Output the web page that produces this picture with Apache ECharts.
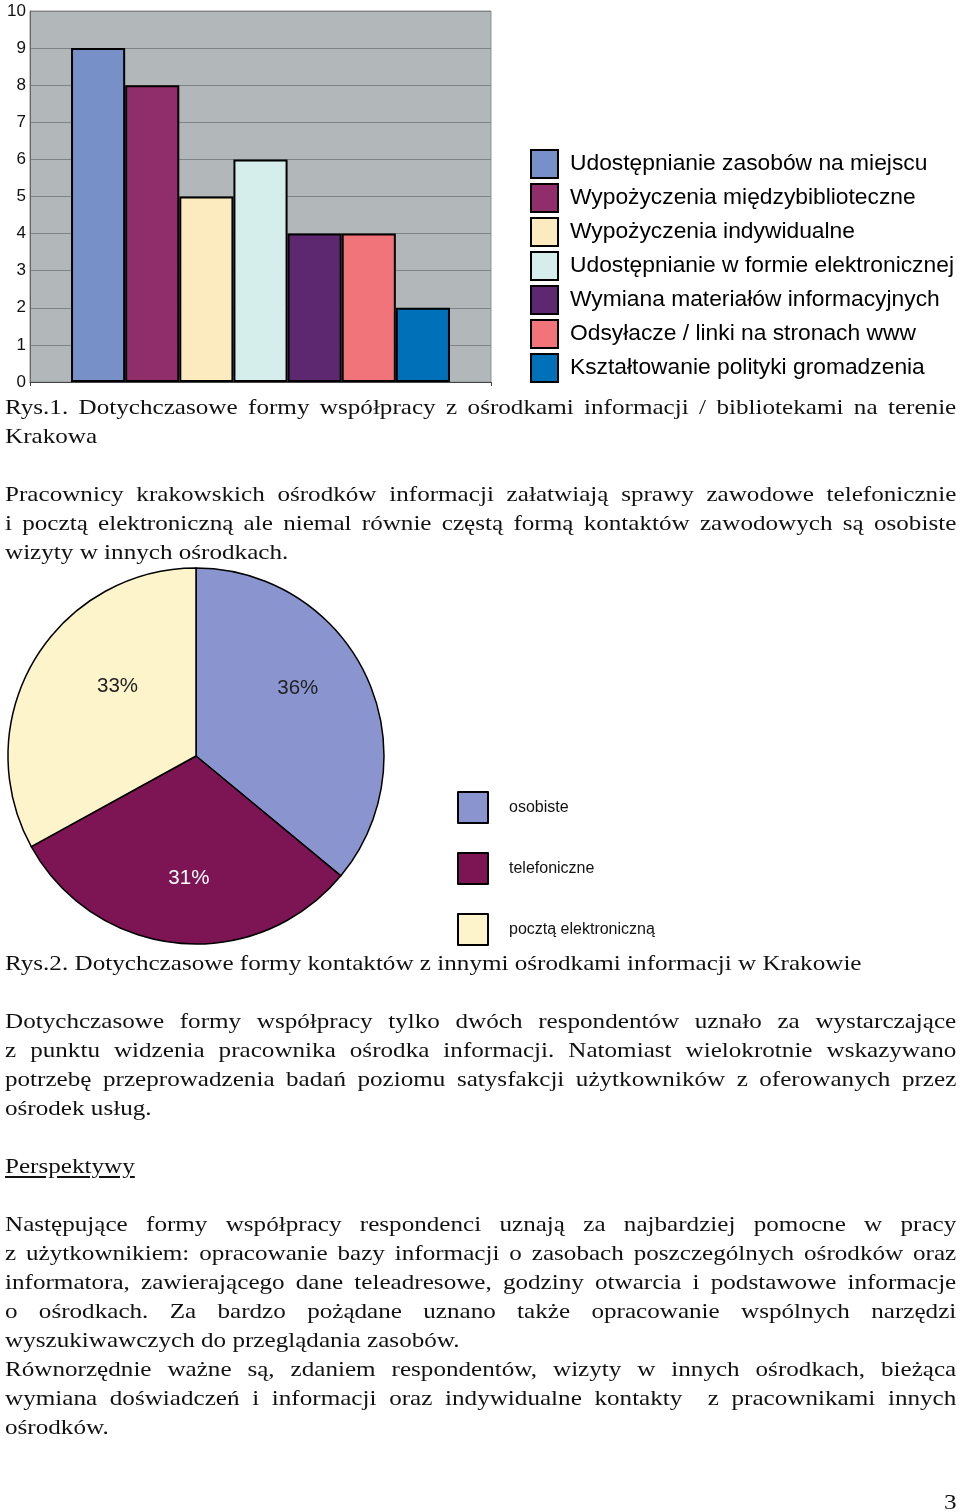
<!DOCTYPE html>
<html>
<head>
<meta charset="utf-8">
<script src="https://cdn.jsdelivr.net/npm/echarts@6/dist/echarts.min.js"></script>
<style>
  html, body { margin: 0; padding: 0; background: #fff; }
  #page { position: relative; width: 960px; height: 1512px; overflow: hidden; }
  #chart { position: absolute; left: 0; top: 0; width: 960px; height: 1512px; }
  .ln { position: absolute; left: 5px; width: 833px; height: 29px; line-height: 29px;
        font-family: "Liberation Serif", "Times New Roman", serif; font-size: 22px; color: #111;
        white-space: nowrap; transform: scaleX(1.142); transform-origin: 0 0; z-index: 5; }
  .j { text-align: justify; text-align-last: justify; white-space: pre-wrap; }
  .u { text-decoration: underline; text-underline-offset: 3px; }
</style>
</head>
<body>
<div id="page">
  <div id="chart"></div>
  <div id="text"></div>
</div>
<script>
// ---- bar chart data (Rys.1) ----
const barSeriesNames = [
  "Udostępnianie zasobów na miejscu",
  "Wypożyczenia międzybiblioteczne",
  "Wypożyczenia indywidualne",
  "Udostępnianie w formie elektronicznej",
  "Wymiana materiałów informacyjnych",
  "Odsyłacze / linki na stronach www",
  "Kształtowanie polityki gromadzenia"
];
const barValues = [9, 8, 5, 6, 4, 4, 2];
const barCategories = [""];
const yTicks = [0, 10, 1]; // min, max, interval

// ---- pie chart data (Rys.2) ----
const pieNames = ["osobiste", "telefoniczne", "pocztą elektroniczną"];
const pieValues = [36, 31, 33];

// ---- styles ----
const barColors = ["#7890c8", "#902d6b", "#fcebbf", "#d5edeb", "#5e2870", "#f07479", "#0070b8"];
const pieColors = ["#8a95d0", "#7d1554", "#fdf4cb"];
const pieLabelColors = ["#222", "#fff", "#222"];
const pieLabelOffsets = [[14, -26], [2, 26], [5, -20]];

// ---- text lines ----
const textLines = [
  [407, "Rys.1. Dotychczasowe formy współpracy z ośrodkami informacji / bibliotekami na terenie", "j"],
  [436, "Krakowa", ""],
  [494, "Pracownicy krakowskich ośrodków informacji załatwiają sprawy zawodowe telefonicznie", "j"],
  [523, "i pocztą elektroniczną ale niemal równie częstą formą kontaktów zawodowych są osobiste", "j"],
  [552, "wizyty w innych ośrodkach.", ""],
  [963, "Rys.2. Dotychczasowe formy kontaktów z innymi ośrodkami informacji w Krakowie", ""],
  [1021, "Dotychczasowe formy współpracy tylko dwóch respondentów uznało za wystarczające", "j"],
  [1050, "z punktu widzenia pracownika ośrodka informacji. Natomiast wielokrotnie wskazywano", "j"],
  [1079, "potrzebę przeprowadzenia badań poziomu satysfakcji użytkowników z oferowanych przez", "j"],
  [1108, "ośrodek usług.", ""],
  [1166, "Perspektywy", "u"],
  [1224, "Następujące formy współpracy respondenci uznają za najbardziej pomocne w pracy", "j"],
  [1253, "z użytkownikiem: opracowanie bazy informacji o zasobach poszczególnych ośrodków oraz", "j"],
  [1282, "informatora, zawierającego dane teleadresowe, godziny otwarcia i podstawowe informacje", "j"],
  [1311, "o ośrodkach. Za bardzo pożądane uznano także opracowanie wspólnych narzędzi", "j"],
  [1340, "wyszukiwawczych do przeglądania zasobów.", ""],
  [1369, "Równorzędnie ważne są, zdaniem respondentów, wizyty w innych ośrodkach, bieżąca", "j"],
  [1398, "wymiana doświadczeń i informacji oraz indywidualne kontakty  z pracownikami innych", "j"],
  [1427, "ośrodków.", ""]
];
const pageNumber = "3";

const textHost = document.getElementById("text");
textLines.forEach(([y, s, cls]) => {
  const d = document.createElement("div");
  d.className = "ln" + (cls ? " " + cls : "");
  d.style.top = (y - 15) + "px";
  d.textContent = s;
  textHost.appendChild(d);
});
const pn = document.createElement("div");
pn.className = "ln";
pn.style.left = "944px";
pn.style.width = "20px";
pn.style.top = (1502 - 15) + "px";
pn.textContent = pageNumber;
textHost.appendChild(pn);

const chart = echarts.init(document.getElementById("chart"), null, { renderer: "canvas" });
const sansFont = "Liberation Sans, Arial, sans-serif";

const barSeries = barSeriesNames.map((name, i) => ({
  name: name,
  type: "bar",
  xAxisIndex: 0,
  yAxisIndex: 0,
  data: [barValues[i]],
  barGap: "0%",
  barCategoryGap: "17.8%",
  itemStyle: { color: barColors[i], borderColor: "#000", borderWidth: 2 },
  emphasis: { disabled: true },
  animation: false
}));

const option = {
  animation: false,
  grid: {
    left: 30, right: 469, top: 11, bottom: 1130,
    show: true, backgroundColor: "#b2b7b9", borderColor: "#8c9092", borderWidth: 1
  },
  xAxis: {
    type: "category",
    data: barCategories,
    axisLine: { show: true, lineStyle: { color: "#444", width: 1 } },
    axisTick: { show: true, length: 4, lineStyle: { color: "#444" } },
    axisLabel: { show: false }
  },
  yAxis: {
    type: "value",
    min: yTicks[0], max: yTicks[1], interval: yTicks[2],
    axisLine: { show: true, lineStyle: { color: "#666", width: 1 } },
    axisTick: { show: false },
    splitLine: { show: true, lineStyle: { color: "#808486", width: 1 } },
    axisLabel: { color: "#111", fontSize: 17, fontFamily: sansFont, margin: 4 }
  },
  legend: [
    {
      data: barSeriesNames,
      orient: "vertical",
      left: 530, top: 149,
      icon: "rect",
      itemWidth: 27, itemHeight: 28, itemGap: 4,
      padding: 0,
      selectedMode: false,
      textStyle: { fontSize: 22.8, lineHeight: 28, color: "#000", fontFamily: sansFont, padding: [0, 0, 0, 7] }
    },
    {
      data: pieNames,
      orient: "vertical",
      left: 457, top: 791,
      icon: "rect",
      itemWidth: 30, itemHeight: 31, itemGap: 28,
      padding: 0,
      selectedMode: false,
      textStyle: { fontSize: 16, lineHeight: 31, color: "#111", fontFamily: sansFont, padding: [0, 0, 0, 16] }
    }
  ],
  series: barSeries.concat([{
    name: "Rys2",
    type: "pie",
    center: [196, 756],
    radius: [0, 188],
    startAngle: 90,
    clockwise: true,
    emphasis: { disabled: true },
    itemStyle: { borderColor: "#000", borderWidth: 1.5 },
    label: { show: true, position: "inside", fontSize: 20.5, fontFamily: sansFont, formatter: "{c}%" },
    labelLine: { show: false },
    data: pieNames.map((n, i) => ({
      name: n,
      value: pieValues[i],
      itemStyle: { color: pieColors[i], borderColor: "#000", borderWidth: 1.5 },
      label: { color: pieLabelColors[i], offset: pieLabelOffsets[i] }
    }))
  }])
};
chart.setOption(option);
</script>
</body>
</html>
